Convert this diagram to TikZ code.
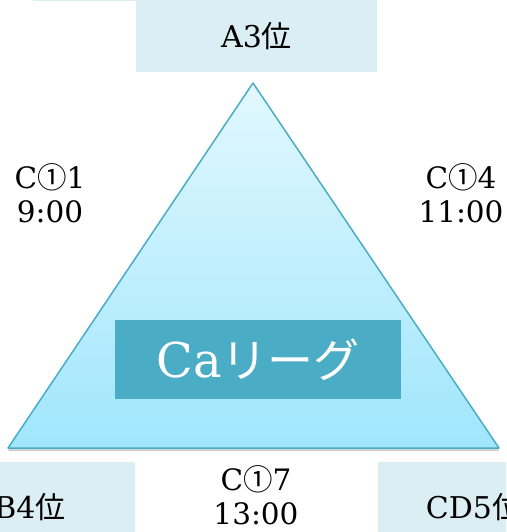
\documentclass[tikz,border=0pt]{standalone}
\usepackage{fontspec}
\setmainfont{DejaVu Serif}
\newfontfamily\jp{Noto Sans CJK JP}
\usetikzlibrary{shadows}
\definecolor{boxfill}{HTML}{DAEEF3}
\definecolor{tristroke}{HTML}{4BACC6}
\definecolor{tritop}{HTML}{E2F8FE}
\definecolor{tribot}{HTML}{A0E6FC}
\definecolor{cabox}{HTML}{4BACC6}
\begin{document}
\begin{tikzpicture}[x=1pt,y=-1pt,
  rankbox/.style={fill=boxfill, draw=none, inner sep=0pt, text=black,
    font=\fontsize{30}{36}\selectfont},
  slot/.style={font=\fontsize{29.5}{34}\selectfont, align=center, inner sep=0pt, text=black},
]
\clip (0,0) rectangle (506,532);
% thin strip of a box above the picture
\fill[boxfill] (33,-20) rectangle (136,1.5);
% rank boxes
\node[rankbox, minimum width=241pt, minimum height=72pt] (a3) at (256.5,36) {A3{\jp 位}};
\node[rankbox, minimum width=210pt, minimum height=90pt] (b4) at (30,507) {B4{\jp 位}};
\node[rankbox, minimum width=193pt, minimum height=90pt] (cd5) at (474,507) {CD5{\jp 位}};
% triangle
\coordinate (apex) at (253,83);
\coordinate (bl) at (8,448);
\coordinate (br) at (499,448);
\path[drop shadow={shadow xshift=0pt, shadow yshift=-3pt, opacity=0.3, fill=black!60}]
  (apex) -- (bl) -- (br) -- cycle;
\draw[tristroke, line width=1.5pt, line join=round, top color=tritop, bottom color=tribot]
  (apex) -- (bl) -- (br) -- cycle;
% league box
\node[fill=cabox, minimum width=286pt, minimum height=79pt, inner sep=0pt, text=white] (ca) at (258,359.5)
  {\fontsize{48}{56}\selectfont Ca{\jp\fontsize{46}{50}\selectfont リーグ}};
% slots
\node[slot] (c1) at (50,193) {C{\jp ①}1\\9:00};
\node[slot] (c4) at (461,193) {C{\jp ①}4\\11:00};
\node[slot] (c7) at (256,495) {C{\jp ①}7\\13:00};
\end{tikzpicture}
\end{document}
